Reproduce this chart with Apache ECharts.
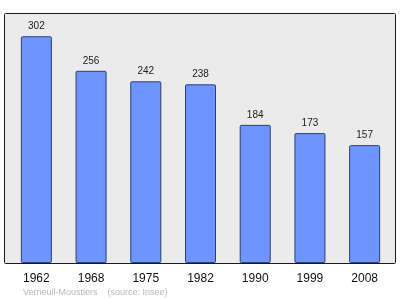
<!DOCTYPE html>
<html>
<head>
<meta charset="utf-8">
<script src="https://cdn.jsdelivr.net/npm/echarts@6/dist/echarts.min.js"></script>
<style>html,body{margin:0;padding:0;background:#fff}#c{width:400px;height:299px}</style>
</head>
<body>
<div id="c"></div>
<script>
var years = ['1962', '1968', '1975', '1982', '1990', '1999', '2008'];
var population = [302, 256, 242, 238, 184, 173, 157];
var footerText = 'Verneuil-Moustiers    (source: Insee)';

var chart = echarts.init(document.getElementById('c'), null, {renderer: 'canvas'});
chart.setOption({
  animation: false,
  backgroundColor: '#ffffff',
  textStyle: {fontFamily: 'Liberation Sans, Arial, sans-serif'},
  title: {
    text: footerText,
    left: 23, top: 288, padding: 0,
    textStyle: {fontSize: 9, fontWeight: 'normal', color: '#b8b8b8', fontFamily: 'Liberation Sans, Arial, sans-serif'}
  },
  graphic: [{
    type: 'rect', z: -10, silent: true,
    shape: {x: 4.5, y: 13.5, width: 391, height: 250, r: 1},
    style: {fill: '#ebebeb', stroke: '#1a1a1a', lineWidth: 1}
  }],
  grid: {left: 9, right: 8, top: 13, bottom: 36},
  xAxis: {
    type: 'category', data: years,
    axisLine: {show: false}, axisTick: {show: false},
    axisLabel: {fontSize: 12, color: '#111', margin: 10, fontFamily: 'Liberation Sans, Arial, sans-serif'}
  },
  yAxis: {
    type: 'value', min: 0, max: 333,
    show: false, splitLine: {show: false}
  },
  series: [{
    type: 'bar', data: population, barWidth: 31,
    itemStyle: {color: '#6e94ff', borderColor: '#2b3f73', borderWidth: 1, borderRadius: 1},
    label: {show: true, position: 'top', distance: 5, fontSize: 10, color: '#222', fontFamily: 'Liberation Sans, Arial, sans-serif'}
  }]
});
</script>
</body>
</html>
